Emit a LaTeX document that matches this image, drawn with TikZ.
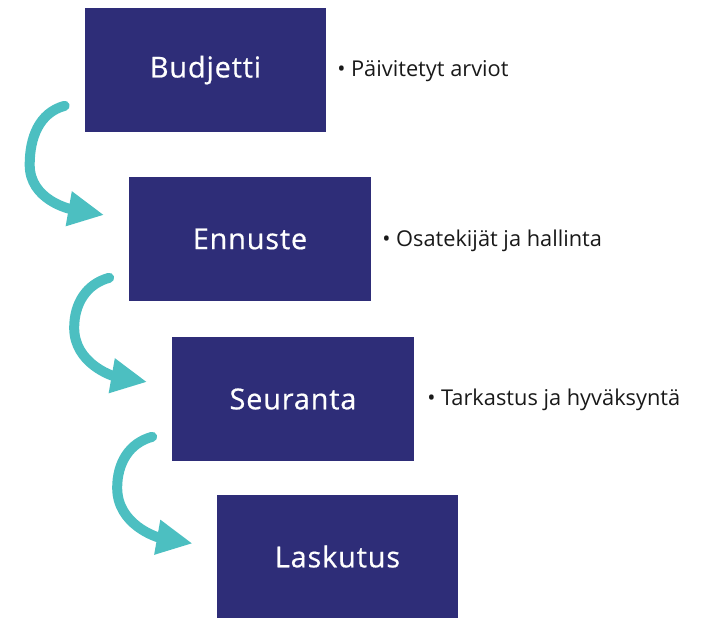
\documentclass[tikz,border=0pt]{standalone}
\usepackage{fontspec}
\setmainfont{Open Sans}
\newfontfamily\stagefont[LetterSpace=3,FakeBold=0.6]{Open Sans}
\usetikzlibrary{calc,arrows.meta}
\definecolor{navy}{HTML}{2E2D78}
\definecolor{teal2}{HTML}{4CBFC1}
\tikzset{
  stage/.style   = { fill=navy, text=white, minimum width=6.025cm, minimum height=3.075cm,
                     inner sep=0pt, font=\stagefont\fontsize{20.5}{22}\selectfont },
  note/.style    = { anchor=west, text=black!90, inner sep=0pt, font=\fontsize{15.5}{17}\selectfont },
  flow/.style    = { teal2, line width=2.5mm, line cap=round,
                     -{Triangle[length=9mm,width=8.2mm]} },
}

\begin{document}
\begin{tikzpicture}[x=0.025cm,y=-0.025cm]
    % frame
    \useasboundingbox (0,0) rectangle (711,618);

    % Draw all stages
    \node[stage] (budjetti) at (205.5,70)  {Budjetti};
    \node[stage] (ennuste)  at (250,239)   {Ennuste};
    \node[stage] (seuranta) at (293,399)   {Seuranta};
    \node[stage] (laskutus) at (337.5,556.5) {Laskutus};

    % notes
    \node[note] (n1) at (337,71)  {\textbullet\ Päivitetyt arviot};
    \node[note] (n2) at (382,241) {\textbullet\ Osatekijät ja hallinta};
    \node[note] (n3) at (427,400) {\textbullet\ Tarkastus ja hyväksyntä};

    % arrow ends
    \coordinate (s1) at ($(budjetti.south west)+(-20,-26)$);
    \coordinate (l1) at ($(budjetti.south west)+(-55,33)$);
    \coordinate (e1) at ($(ennuste.west)+(-25,-24)$);
    \coordinate (s2) at ($(ennuste.south west)+(-20,-23)$);
    \coordinate (l2) at ($(ennuste.south west)+(-55,27)$);
    \coordinate (e2) at ($(seuranta.west)+(-25,-17)$);
    \coordinate (s3) at ($(seuranta.south west)+(-20,-24)$);
    \coordinate (l3) at ($(seuranta.south west)+(-55,27)$);
    \coordinate (e3) at ($(laskutus.west)+(-24,-13)$);

    % connect stages
    \draw[flow] (s1) to[out=195,in=90] (l1) to[out=-90,in=170] (e1);
    \draw[flow] (s2) to[out=195,in=90] (l2) to[out=-90,in=170] (e2);
    \draw[flow] (s3) to[out=195,in=90] (l3) to[out=-90,in=170] (e3);
\end{tikzpicture}
\end{document}
